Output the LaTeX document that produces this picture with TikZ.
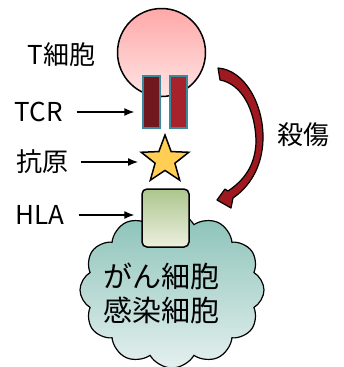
\documentclass[tikz,border=0pt]{standalone}
\usepackage{fontspec}
\setmainfont{Noto Sans CJK JP}
\usepackage{tikz}
\usetikzlibrary{shapes,shapes.geometric,shapes.symbols,arrows.meta,positioning,calc}
\usepackage{xcolor}

\definecolor{tcellTop}{RGB}{255,168,168}
\definecolor{tcellBot}{RGB}{255,228,228}
\definecolor{tcrDark}{RGB}{112,24,30}
\definecolor{tcrLight}{RGB}{168,34,44}
\definecolor{tcrEdge}{RGB}{58,138,158}
\definecolor{antigenFill}{RGB}{255,206,82}
\definecolor{hlaTop}{RGB}{172,198,142}
\definecolor{hlaBot}{RGB}{236,239,222}
\definecolor{targetTop}{RGB}{138,194,184}
\definecolor{targetBot}{RGB}{228,240,238}
\definecolor{killRed}{RGB}{158,26,32}

\begin{document}
\begin{tikzpicture}[
    x=1pt, y=-1pt,
    label/.style={inner sep=0pt, font=\fontsize{26}{30}\selectfont},
    bar/.style={rectangle, draw=tcrEdge, line width=1.5pt, minimum width=17pt, minimum height=52pt, inner sep=0pt},
    pointer/.style={-{Latex[length=10pt,width=8pt]}, line width=1.2pt}
]
\useasboundingbox (0,0) rectangle (344,367);

% T cell with its receptor
\node[circle, draw, line width=1.5pt, minimum size=88pt, inner sep=0pt,
      top color=tcellTop, bottom color=tcellBot] (tcell) at (161.5,52.5) {};
\node[bar, fill=tcrDark] (tcrL) at (151.5,102) {};
\node[bar, fill=tcrLight] (tcrR) at (178.5,102) {};

% target cell and HLA
\node[cloud, cloud puffs=12, cloud puff arc=120, aspect=1.2, draw, line width=1.2pt,
      minimum width=184pt, minimum height=156pt, inner sep=0pt,
      top color=targetTop, bottom color=targetBot] (target) at (172,290) {};
\node[rectangle, rounded corners=5pt, draw, line width=1.5pt, minimum width=47pt, minimum height=58pt,
      inner sep=0pt, top color=hlaTop, bottom color=hlaBot] (hla) at (165.5,218) {};
\node[align=center, inner sep=0pt, font=\fontsize{29}{34}\selectfont] (targettext) at (161.5,293.5) {がん細胞\\感染細胞};

% antigen
\node[star, star points=5, star point ratio=2.4, draw, line width=1.5pt, fill=antigenFill,
      minimum size=50pt, inner sep=0pt] (antigen) at (165,160) {};

% killing arrow
\fill[killRed, draw=black, line width=1.2pt, line join=round]
    (218,68) .. controls (245,70) and (264,105) .. (263,140)
    .. controls (262,168) and (249,187) .. (233,198)
    -- (231,208) -- (217,200) -- (225,189) -- (228,191)
    .. controls (243,181) and (256,166) .. (256,140)
    .. controls (255,110) and (242,84) .. (220,80) -- cycle;

% labels
\node[label] (tcelllab) at (61.5,55) {T細胞};
\node[label] (tcrlab) at (38.5,112) {TCR};
\node[label] (antlab) at (42.5,162) {抗原};
\node[label] (hlalab) at (40,215) {HLA};
\node[label] (killlab) at (303,135) {殺傷};

% pointers
\draw[pointer, shorten <=14pt, shorten >=8pt] (tcrlab.east) -- (tcrlab.east -| tcrL.west);
\draw[pointer, shorten <=12pt, shorten >=27pt] (antlab.east) -- (antlab.east -| antigen.center);
\draw[pointer, shorten <=14pt, shorten >=7pt] (hlalab.east) -- (hlalab.east -| hla.west);

\end{tikzpicture}
\end{document}
